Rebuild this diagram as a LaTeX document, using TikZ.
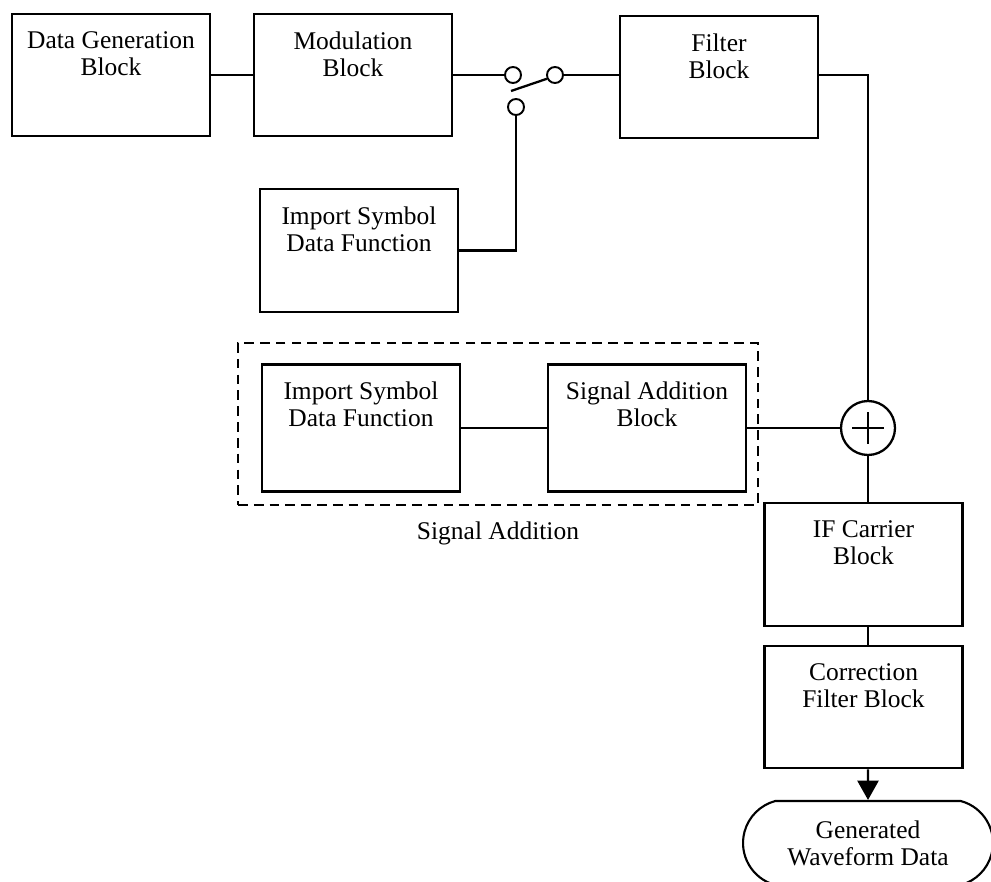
\documentclass[tikz,border=0pt]{standalone}
\usepackage{fontspec}
\setmainfont{Liberation Serif}
\usetikzlibrary{arrows.meta,positioning,shapes.misc}
\definecolor{ink}{HTML}{000000}
\tikzset{
  blk/.style={rectangle, draw=ink, line width=1.6pt, minimum width=3.96cm,
              minimum height=2.46cm, inner sep=0pt},
  txt/.style={align=center, inner sep=0pt, text=ink,
              font=\fontsize{14.5}{15.4}\selectfont},
  grp/.style={rectangle, draw=ink, line width=1.4pt, dash pattern=on 5.5pt off 3.5pt,
              minimum width=10.4cm, minimum height=3.24cm, inner sep=0pt},
  contact/.style={circle, draw=ink, fill=white, line width=1.1pt,
              minimum size=0.32cm, inner sep=0pt},
  sum/.style={circle, draw=ink, line width=1.3pt, minimum size=1.08cm, inner sep=0pt,
              path picture={\draw[line width=1.1pt]
                ([xshift=-9pt]path picture bounding box.center) -- ([xshift=9pt]path picture bounding box.center)
                ([yshift=-9pt]path picture bounding box.center) -- ([yshift=9pt]path picture bounding box.center);}},
  term/.style={rounded rectangle, rounded rectangle arc length=150, draw=ink,
              line width=1.2pt, minimum width=5cm, minimum height=1.68cm, txt},
  wire/.style={draw=ink, line width=1.3pt},
  wirethin/.style={draw=ink, line width=0.9pt},
  fl/.style={wire, -{Triangle[length=11pt,width=12pt]}}
}
\begin{document}
\begin{tikzpicture}[x=0.02cm, y=-0.02cm]
  \useasboundingbox (0,0) rectangle (991,882);
  \fill[white] (0,0) rectangle (991,882);
  \node[blk, minimum height=2.44cm] (dg) at (111,75) {};
  \node[txt, below=10.5pt of dg.north] (dgt) {Data Generation\\Block};
  \node[blk, minimum height=2.44cm] (mod) at (353,75) {};
  \node[txt, below=10.5pt of mod.north] (modt) {Modulation\\Block};
  \node[contact] (sw1) at (513,75) {};
  \node[contact] (sw2) at (555,75) {};
  \node[contact] (sw3) at (516,107) {};
  \coordinate (bl) at (511,91);
  \node[blk, minimum height=2.44cm] (filt) at (719,77) {};
  \node[txt, below=10.5pt of filt.north] (filtt) {Filter\\Block};
  \node[blk] (imp) at (359,250.5) {};
  \node[txt, below=10.5pt of imp.north] (impt) {Import Symbol\\Data Function};
  \node[grp] (grp) at (498,424) {};
  \node[txt, below=8.5pt of grp.south] (grpt) {Signal Addition};
  \node[blk, minimum height=2.54cm] (imp2) at (361,428) {};
  \node[txt, below=10.5pt of imp2.north] (imp2t) {Import Symbol\\Data Function};
  \node[blk, minimum height=2.54cm] (sab) at (647,428) {};
  \node[txt, below=10.5pt of sab.north] (sabt) {Signal Addition\\Block};
  \node[sum] (add) at (868,428) {};
  \node[blk] (ifc) at (863.5,564.5) {};
  \node[txt, below=10.5pt of ifc.north] (ifct) {IF Carrier\\Block};
  \node[blk, minimum height=2.44cm] (cor) at (863.5,707) {};
  \node[txt, below=10.5pt of cor.north] (cort) {Correction\\Filter Block};
  \node[term] (out) at (868,843) {Generated\\Waveform Data};
  \draw[wire] (dg) -- (mod);
  \draw[wire] (mod) -- (sw1);
  \draw[wire] (bl) -- (sw2.205);
  \draw[wire] (sw2) -- (sw2 -| filt.west);
  \draw[wire] (sw3) |- (imp);
  \draw[wire] (filt.east |- sw2) -| (add);
  \draw[wirethin] (imp2) -- (sab);
  \draw[wirethin] (sab) -- (add);
  \draw[wire] (add) -- (add |- ifc.north);
  \draw[wire] (ifc.south -| add) -- (cor.north -| add);
  \draw[fl] (cor.south -| add) -- (out);
\end{tikzpicture}
\end{document}
